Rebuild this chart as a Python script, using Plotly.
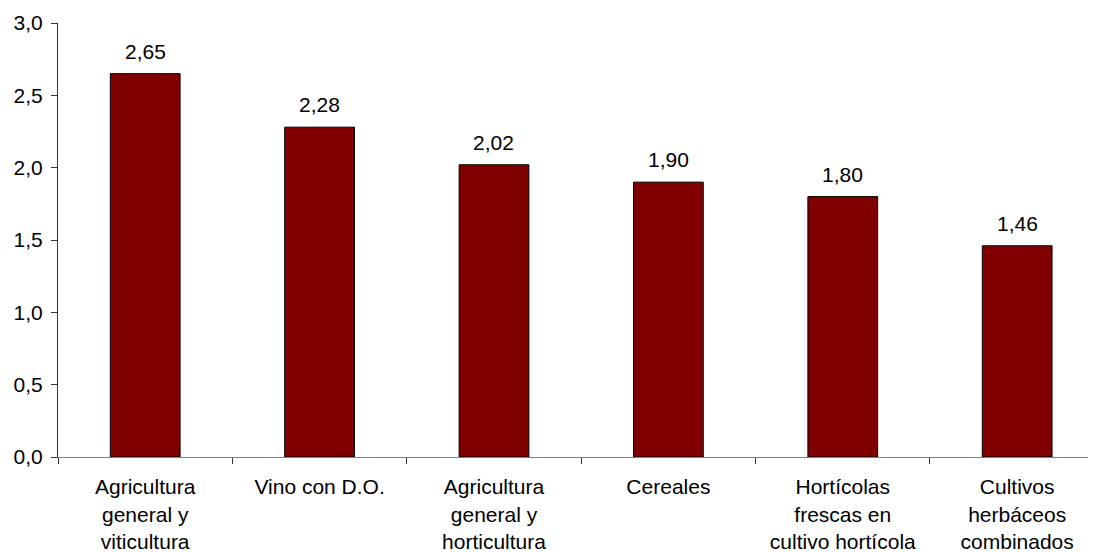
import plotly.graph_objects as go

categories = [
    "Agricultura<br>general y<br>viticultura",
    "Vino con D.O.",
    "Agricultura<br>general y<br>horticultura",
    "Cereales",
    "Hortícolas<br>frescas en<br>cultivo hortícola",
    "Cultivos<br>herbáceos<br>combinados",
]
values = [2.65, 2.28, 2.02, 1.90, 1.80, 1.46]
y_ticks = [0, 0.5, 1.0, 1.5, 2.0, 2.5, 3.0]

font = "Liberation Sans, Arial, sans-serif"
fs = 21

fig = go.Figure(
    go.Bar(
        x=categories,
        y=values,
        width=0.40,
        marker=dict(color="#800000", line=dict(color="#000000", width=1)),
        cliponaxis=False,
    )
)

for c, v in zip(categories, values):
    fig.add_annotation(
        x=c, y=v, xref="x", yref="y",
        text=f"{v:.2f}".replace(".", ","),
        showarrow=False, yanchor="bottom", yshift=9,
        font=dict(family=font, size=fs, color="#000000"),
    )

# page body has an 8px margin, so the figure is sized to fill the rest of the window
fig.update_layout(
    width=1088,
    height=544,
    margin=dict(l=50, r=0, t=15, b=95, autoexpand=False),
    plot_bgcolor="white",
    paper_bgcolor="white",
    separators=",.",
    showlegend=False,
    font=dict(family=font, size=fs, color="#000000"),
    xaxis=dict(
        type="category",
        range=[-0.5, 5.452],
        automargin=False,
        tickson="boundaries",
        ticks="outside",
        ticklen=6,
        tickcolor="#333333",
        showline=True,
        linecolor="#808080",
        linewidth=1,
        showgrid=False,
        tickangle=0,
        ticklabelstandoff=11,
        tickfont=dict(family=font, size=fs, color="#000000"),
    ),
    yaxis=dict(
        range=[0, 3.0],
        automargin=False,
        tickvals=y_ticks,
        tickformat=".1f",
        ticks="outside",
        ticklen=6,
        tickcolor="#333333",
        showline=True,
        linecolor="#333333",
        linewidth=1,
        showgrid=False,
        zeroline=False,
        ticklabelstandoff=4,
        tickfont=dict(family=font, size=fs, color="#000000"),
    ),
)

fig.write_html("out.html")
